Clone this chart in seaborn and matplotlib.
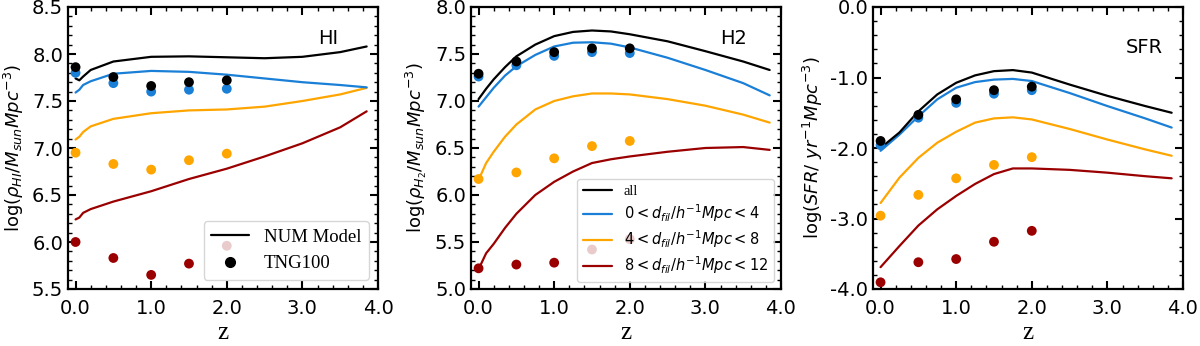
import numpy as np
import pandas as pd
import matplotlib
matplotlib.use("Agg")
import matplotlib.pyplot as plt
from matplotlib.lines import Line2D
from matplotlib.ticker import MultipleLocator, FormatStrFormatter
import seaborn as sns

# ---------------- data ----------------
pts_z = [0.0, 0.5, 1.0, 1.5, 2.0]

# HI panel
hi_z = [0.0, 0.05, 0.1, 0.2, 0.5, 1.0, 1.5, 2.0, 2.5, 3.0, 3.5, 3.85]
hi_all = [7.74, 7.72, 7.76, 7.83, 7.92, 7.97, 7.975, 7.965, 7.955, 7.97, 8.02, 8.08]
hi_d04 = [7.59, 7.62, 7.67, 7.71, 7.79, 7.82, 7.81, 7.78, 7.74, 7.70, 7.67, 7.645]
hi_d48 = [7.09, 7.12, 7.17, 7.23, 7.31, 7.37, 7.40, 7.41, 7.44, 7.50, 7.57, 7.64]
hi_d812 = [6.24, 6.26, 6.31, 6.35, 6.43, 6.54, 6.67, 6.78, 6.91, 7.05, 7.22, 7.39]
hi_pts_all = [7.86, 7.755, 7.66, 7.70, 7.72]
hi_pts_d04 = [7.80, 7.69, 7.60, 7.62, 7.63]
hi_pts_d48 = [6.95, 6.83, 6.77, 6.87, 6.94]
hi_pts_d812 = [6.00, 5.83, 5.65, 5.77, 5.96]

# H2 panel
h2_z = [0.0, 0.1, 0.2, 0.35, 0.5, 0.75, 1.0, 1.25, 1.5, 1.75, 2.0, 2.5, 3.0, 3.5, 3.85]
h2_all = [7.02, 7.13, 7.23, 7.36, 7.475, 7.60, 7.69, 7.735, 7.75, 7.74, 7.71, 7.635, 7.53, 7.42, 7.33]
h2_d04 = [6.94, 7.04, 7.14, 7.27, 7.37, 7.49, 7.58, 7.62, 7.625, 7.61, 7.57, 7.46, 7.33, 7.19, 7.06]
h2_d48 = [6.16, 6.34, 6.46, 6.62, 6.75, 6.91, 7.00, 7.05, 7.08, 7.08, 7.07, 7.02, 6.95, 6.855, 6.77]
h2_d812 = [5.21, 5.38, 5.48, 5.65, 5.80, 6.00, 6.14, 6.25, 6.34, 6.38, 6.41, 6.46, 6.50, 6.51, 6.48]
h2_pts_all = [7.29, 7.42, 7.52, 7.56, 7.56]
h2_pts_d04 = [7.26, 7.38, 7.48, 7.52, 7.51]
h2_pts_d48 = [6.17, 6.24, 6.39, 6.52, 6.575]
h2_pts_d812 = [5.22, 5.26, 5.28, 5.42, 5.53]

# SFR panel
sfr_z = [0.0, 0.25, 0.5, 0.75, 1.0, 1.25, 1.5, 1.75, 2.0, 2.5, 3.0, 3.5, 3.85]
sfr_all = [-2.00, -1.78, -1.48, -1.24, -1.075, -0.97, -0.91, -0.895, -0.93, -1.10, -1.26, -1.405, -1.50]
sfr_d04 = [-2.04, -1.81, -1.55, -1.31, -1.145, -1.065, -1.03, -1.02, -1.05, -1.22, -1.405, -1.58, -1.71]
sfr_d48 = [-2.78, -2.42, -2.14, -1.925, -1.77, -1.64, -1.58, -1.565, -1.595, -1.73, -1.88, -2.02, -2.11]
sfr_d812 = [-3.69, -3.39, -3.10, -2.87, -2.68, -2.51, -2.37, -2.29, -2.29, -2.31, -2.35, -2.40, -2.43]
sfr_pts_all = [-1.90, -1.53, -1.31, -1.18, -1.13]
sfr_pts_d04 = [-1.96, -1.57, -1.36, -1.23, -1.18]
sfr_pts_d48 = [-2.96, -2.665, -2.43, -2.24, -2.13]
sfr_pts_d812 = [-3.905, -3.62, -3.575, -3.33, -3.175]

group_names = ["all", "d04", "d48", "d812"]
legend_labels = ["all",
                 r"$0 < d_{fil}/h^{-1}Mpc < 4$",
                 r"$4 < d_{fil}/h^{-1}Mpc < 8$",
                 r"$8 < d_{fil}/h^{-1}Mpc < 12$"]
panel_labels = ["HI", "H2", "SFR"]
ylabels = [r"log($\rho_{HI}/M_{sun}Mpc^{-3}$)",
           r"log($\rho_{H_2}/M_{sun}Mpc^{-3}$)",
           r"log($SFR/\ yr^{-1}Mpc^{-3}$)"]

# ---------------- style ----------------
sns.set_style("ticks")
plt.rcParams["font.family"] = ["DejaVu Sans"]
plt.rcParams["axes.unicode_minus"] = False
plt.rcParams["mathtext.fontset"] = "dejavusans"
for k in ["text.color", "axes.labelcolor", "xtick.color", "ytick.color", "axes.edgecolor"]:
    plt.rcParams[k] = "black"

colors = {"all": "black", "d04": "#1a7fd6", "d48": "#ffa500", "d812": "#9a0000"}

panels = [
    (hi_z, [hi_all, hi_d04, hi_d48, hi_d812],
     [hi_pts_all, hi_pts_d04, hi_pts_d48, hi_pts_d812], (5.5, 8.5), 0.5, 0.1),
    (h2_z, [h2_all, h2_d04, h2_d48, h2_d812],
     [h2_pts_all, h2_pts_d04, h2_pts_d48, h2_pts_d812], (5.0, 8.0), 0.5, 0.1),
    (sfr_z, [sfr_all, sfr_d04, sfr_d48, sfr_d812],
     [sfr_pts_all, sfr_pts_d04, sfr_pts_d48, sfr_pts_d812], (-4.0, 0.0), 1.0, 0.2),
]

fig = plt.figure(figsize=(12, 3.46), dpi=100)
lefts = [68 / 1200, 471 / 1200, 873 / 1200]
bottom = 57 / 346
width = 310 / 1200
height = 282 / 346

text_pos = [(0.84, 0.887), (0.848, 0.887), (0.874, 0.855)]

for i, (z, lines, pts, ylim, ymaj, ymin) in enumerate(panels):
    ax = fig.add_axes([lefts[i], bottom, width, height])
    line_df = pd.concat([pd.DataFrame({"z": z, "val": v, "grp": g})
                         for g, v in zip(group_names, lines)], ignore_index=True)
    pts_df = pd.concat([pd.DataFrame({"z": pts_z, "val": v, "grp": g})
                        for g, v in zip(group_names, pts)], ignore_index=True)
    for g in group_names[::-1]:
        sub = line_df[line_df.grp == g]
        sns.lineplot(data=sub, x="z", y="val", color=colors[g], lw=1.6,
                     ax=ax, legend=False, sort=False, zorder=2)
    for g in ["d812", "d48", "d04", "all"]:
        sub = pts_df[pts_df.grp == g]
        sns.scatterplot(data=sub, x="z", y="val", color=colors[g], s=50,
                        edgecolor="none", ax=ax, legend=False, zorder=3)

    ax.set_xlim(-0.1, 4.0)
    ax.set_ylim(*ylim)
    ax.xaxis.set_major_locator(MultipleLocator(1.0))
    ax.xaxis.set_minor_locator(MultipleLocator(0.2))
    ax.yaxis.set_major_locator(MultipleLocator(ymaj))
    ax.yaxis.set_minor_locator(MultipleLocator(ymin))
    ax.xaxis.set_major_formatter(FormatStrFormatter("%.1f"))
    ax.yaxis.set_major_formatter(FormatStrFormatter("%.1f"))
    ax.tick_params(which="both", direction="in", top=True, right=True, colors="black")
    ax.tick_params(which="major", length=6, width=1.5, labelsize=14)
    ax.tick_params(which="minor", length=3, width=1.0)
    ax.tick_params(axis="x", which="major", pad=7)
    for sp in ax.spines.values():
        sp.set_linewidth(1.6)
        sp.set_color("black")
        sp.set_visible(True)
    ax.set_xlabel("z", family="Liberation Serif", fontsize=18, labelpad=3)
    ax.set_ylabel(ylabels[i], fontsize=13, labelpad=4)
    ax.text(text_pos[i][0], text_pos[i][1], panel_labels[i], transform=ax.transAxes,
            ha="center", va="center", fontsize=14)

    leg = None
    if i == 0:
        handles = [Line2D([], [], color="black", lw=1.6),
                   Line2D([], [], color="black", marker="o", ls="none", markersize=7)]
        leg = ax.legend(handles, ["NUM Model", "TNG100"], loc="lower right",
                        prop={"family": "Liberation Serif", "size": 13.5})
    elif i == 1:
        handles = [Line2D([], [], color=colors[g], lw=1.6) for g in group_names]
        leg = ax.legend(handles, legend_labels, loc="lower right",
                        prop={"family": "Liberation Serif", "size": 10.5},
                        labelspacing=0.3)
    if leg is not None:
        frame = leg.get_frame()
        frame.set_edgecolor("#cccccc")
        frame.set_facecolor("white")
        frame.set_alpha(0.8)
        frame.set_linewidth(1.0)

fig.savefig("out.png", dpi=100)
